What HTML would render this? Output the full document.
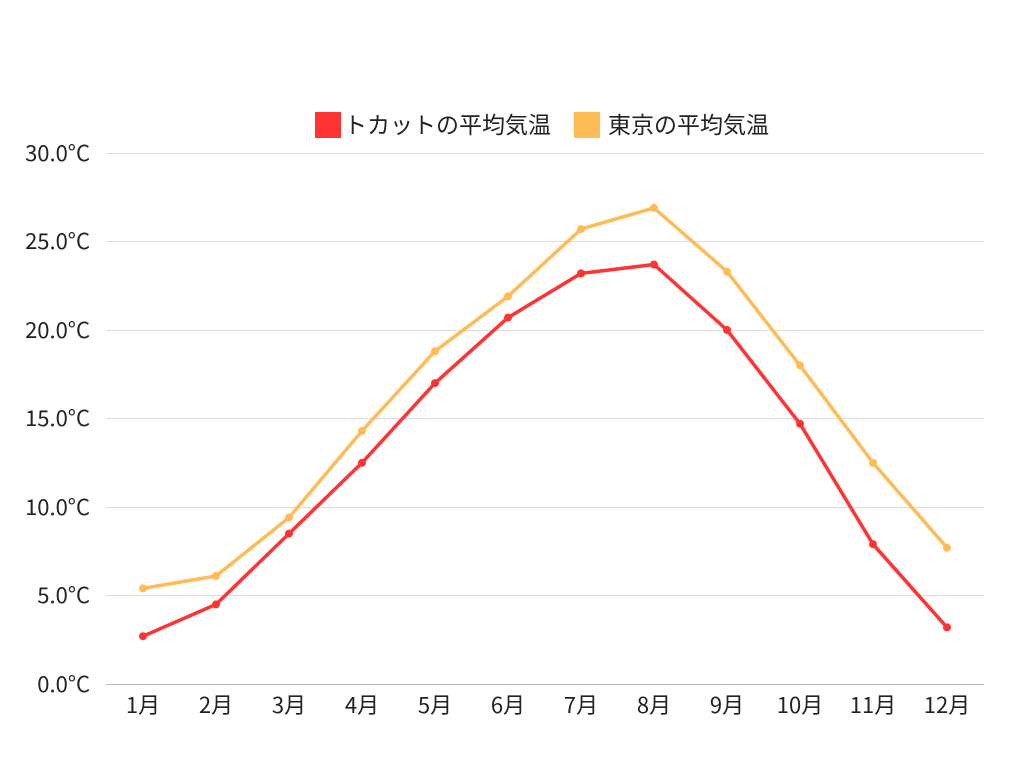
<!DOCTYPE html>
<html><head><meta charset="utf-8"><style>
html,body{margin:0;padding:0;background:#fff;}
svg text{font-family:"Noto Sans CJK JP","Liberation Sans",sans-serif;fill:#222;}
</style></head><body>
<svg width="1024" height="768" xmlns="http://www.w3.org/2000/svg">
<g stroke="#dddddd" stroke-width="1">
<line x1="106" y1="153.5" x2="984" y2="153.5"/>
<line x1="106" y1="241.5" x2="984" y2="241.5"/>
<line x1="106" y1="330.5" x2="984" y2="330.5"/>
<line x1="106" y1="418.5" x2="984" y2="418.5"/>
<line x1="106" y1="507.5" x2="984" y2="507.5"/>
<line x1="106" y1="595.5" x2="984" y2="595.5"/>
</g>
<line x1="106" y1="684.5" x2="984" y2="684.5" stroke="#bbbbbb" stroke-width="1"/>
<g font-size="22" text-anchor="end">
<text x="90" y="161">30.0°C</text>
<text x="90" y="249">25.0°C</text>
<text x="90" y="338">20.0°C</text>
<text x="90" y="426">15.0°C</text>
<text x="90" y="515">10.0°C</text>
<text x="90" y="603">5.0°C</text>
<text x="90" y="692">0.0°C</text>
</g>
<g font-size="22" text-anchor="middle">
<text x="143" y="713">1月</text><text x="216" y="713">2月</text><text x="289" y="713">3月</text>
<text x="362" y="713">4月</text><text x="435" y="713">5月</text><text x="508" y="713">6月</text>
<text x="581" y="713">7月</text><text x="654" y="713">8月</text><text x="727" y="713">9月</text>
<text x="800" y="713">10月</text><text x="873" y="713">11月</text><text x="947" y="713">12月</text>
</g>
<rect x="315" y="112" width="26" height="26" fill="#ff3333"/>
<text x="344" y="133" font-size="23">トカットの平均気温</text>
<rect x="574" y="112" width="26" height="26" fill="#ffbb55"/>
<text x="608" y="133" font-size="23">東京の平均気温</text>
<polyline fill="none" stroke="#ffbb55" stroke-width="3.5" stroke-linejoin="round" points="143,588.4 216,576 289,517.6 362,430.9 435,351.2 508,296.4 581,229.1 654,207.9 727,271.6 800,365.4 873,462.8 947,547.7"/>
<g fill="#ffbb55">
<circle cx="143" cy="588.4" r="4"/><circle cx="216" cy="576" r="4"/><circle cx="289" cy="517.6" r="4"/><circle cx="362" cy="430.9" r="4"/><circle cx="435" cy="351.2" r="4"/><circle cx="508" cy="296.4" r="4"/><circle cx="581" cy="229.1" r="4"/><circle cx="654" cy="207.9" r="4"/><circle cx="727" cy="271.6" r="4"/><circle cx="800" cy="365.4" r="4"/><circle cx="873" cy="462.8" r="4"/><circle cx="947" cy="547.7" r="4"/>
</g>
<polyline fill="none" stroke="#ff3333" stroke-width="3.5" stroke-linejoin="round" points="143,636.2 216,604.4 289,533.6 362,462.8 435,383.1 508,317.6 581,273.4 654,264.5 727,330 800,423.8 873,544.2 947,627.4"/>
<g fill="#ff3333">
<circle cx="143" cy="636.2" r="4"/><circle cx="216" cy="604.4" r="4"/><circle cx="289" cy="533.6" r="4"/><circle cx="362" cy="462.8" r="4"/><circle cx="435" cy="383.1" r="4"/><circle cx="508" cy="317.6" r="4"/><circle cx="581" cy="273.4" r="4"/><circle cx="654" cy="264.5" r="4"/><circle cx="727" cy="330" r="4"/><circle cx="800" cy="423.8" r="4"/><circle cx="873" cy="544.2" r="4"/><circle cx="947" cy="627.4" r="4"/>
</g>
</svg>
</body></html>
